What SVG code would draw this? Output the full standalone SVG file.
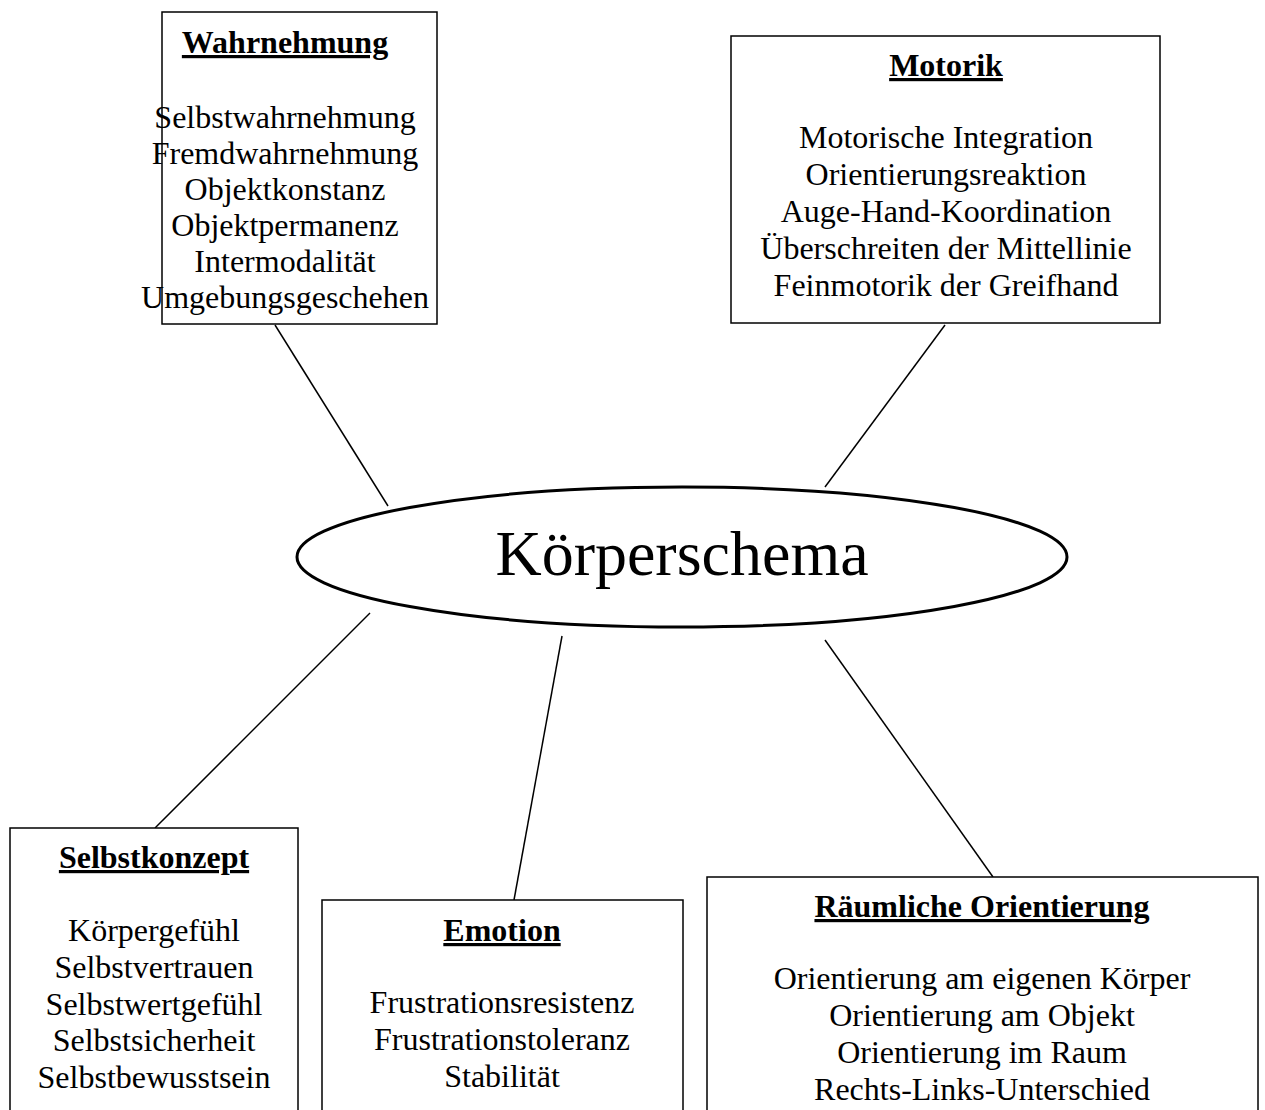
<svg xmlns="http://www.w3.org/2000/svg" width="1265" height="1110" viewBox="0 0 1265 1110">
<style>
.box{fill:#fff;stroke:#000;stroke-width:1.5}
.t{font-family:"Liberation Serif","Times New Roman",serif;font-size:32px;text-anchor:middle;fill:#000}
.h{font-family:"Liberation Serif","Times New Roman",serif;font-size:32px;font-weight:bold;text-anchor:middle;text-decoration:underline;fill:#000}
.c{stroke:#000;stroke-width:1.5;fill:none}
</style>
<rect width="1265" height="1110" fill="#fff"/>
<g id="connectors">
<line class="c" x1="275" y1="325" x2="388" y2="506"/>
<line class="c" x1="945" y1="325" x2="825" y2="487"/>
<line class="c" x1="370" y1="613" x2="155" y2="828"/>
<line class="c" x1="562" y1="636" x2="514" y2="900"/>
<line class="c" x1="825" y1="640" x2="993" y2="877"/>
</g>
<g id="koerperschema">
<ellipse cx="682" cy="557" rx="385" ry="70" fill="#fff" stroke="#000" stroke-width="3"/>
<text x="682" y="575" style="font-family:'Liberation Serif','Times New Roman',serif;font-size:64px;text-anchor:middle">Körperschema</text>
</g>
<g id="wahrnehmung">
<rect class="box" x="162" y="12" width="275" height="312"/>
<text class="h" x="285" y="53">Wahrnehmung</text>
<text class="t" x="285" y="128">Selbstwahrnehmung</text>
<text class="t" x="285" y="164">Fremdwahrnehmung</text>
<text class="t" x="285" y="200">Objektkonstanz</text>
<text class="t" x="285" y="236">Objektpermanenz</text>
<text class="t" x="285" y="272">Intermodalität</text>
<text class="t" x="285" y="308">Umgebungsgeschehen</text>
</g>
<g id="motorik">
<rect class="box" x="731" y="36" width="429" height="287"/>
<text class="h" x="946" y="76">Motorik</text>
<text class="t" x="946" y="148">Motorische Integration</text>
<text class="t" x="946" y="185">Orientierungsreaktion</text>
<text class="t" x="946" y="222">Auge-Hand-Koordination</text>
<text class="t" x="946" y="259">Überschreiten der Mittellinie</text>
<text class="t" x="946" y="296">Feinmotorik der Greifhand</text>
</g>
<g id="selbstkonzept">
<rect class="box" x="10" y="828" width="288" height="300"/>
<text class="h" x="154" y="868">Selbstkonzept</text>
<text class="t" x="154" y="941">Körpergefühl</text>
<text class="t" x="154" y="978">Selbstvertrauen</text>
<text class="t" x="154" y="1015">Selbstwertgefühl</text>
<text class="t" x="154" y="1051">Selbstsicherheit</text>
<text class="t" x="154" y="1088">Selbstbewusstsein</text>
</g>
<g id="emotion">
<rect class="box" x="322" y="900" width="361" height="230"/>
<text class="h" x="502" y="941">Emotion</text>
<text class="t" x="502" y="1013">Frustrationsresistenz</text>
<text class="t" x="502" y="1050">Frustrationstoleranz</text>
<text class="t" x="502" y="1087">Stabilität</text>
</g>
<g id="raeumliche">
<rect class="box" x="707" y="877" width="551" height="250"/>
<text class="h" x="982" y="917">Räumliche Orientierung</text>
<text class="t" x="982" y="989">Orientierung am eigenen Körper</text>
<text class="t" x="982" y="1026">Orientierung am Objekt</text>
<text class="t" x="982" y="1063">Orientierung im Raum</text>
<text class="t" x="982" y="1100">Rechts-Links-Unterschied</text>
</g>
</svg>
